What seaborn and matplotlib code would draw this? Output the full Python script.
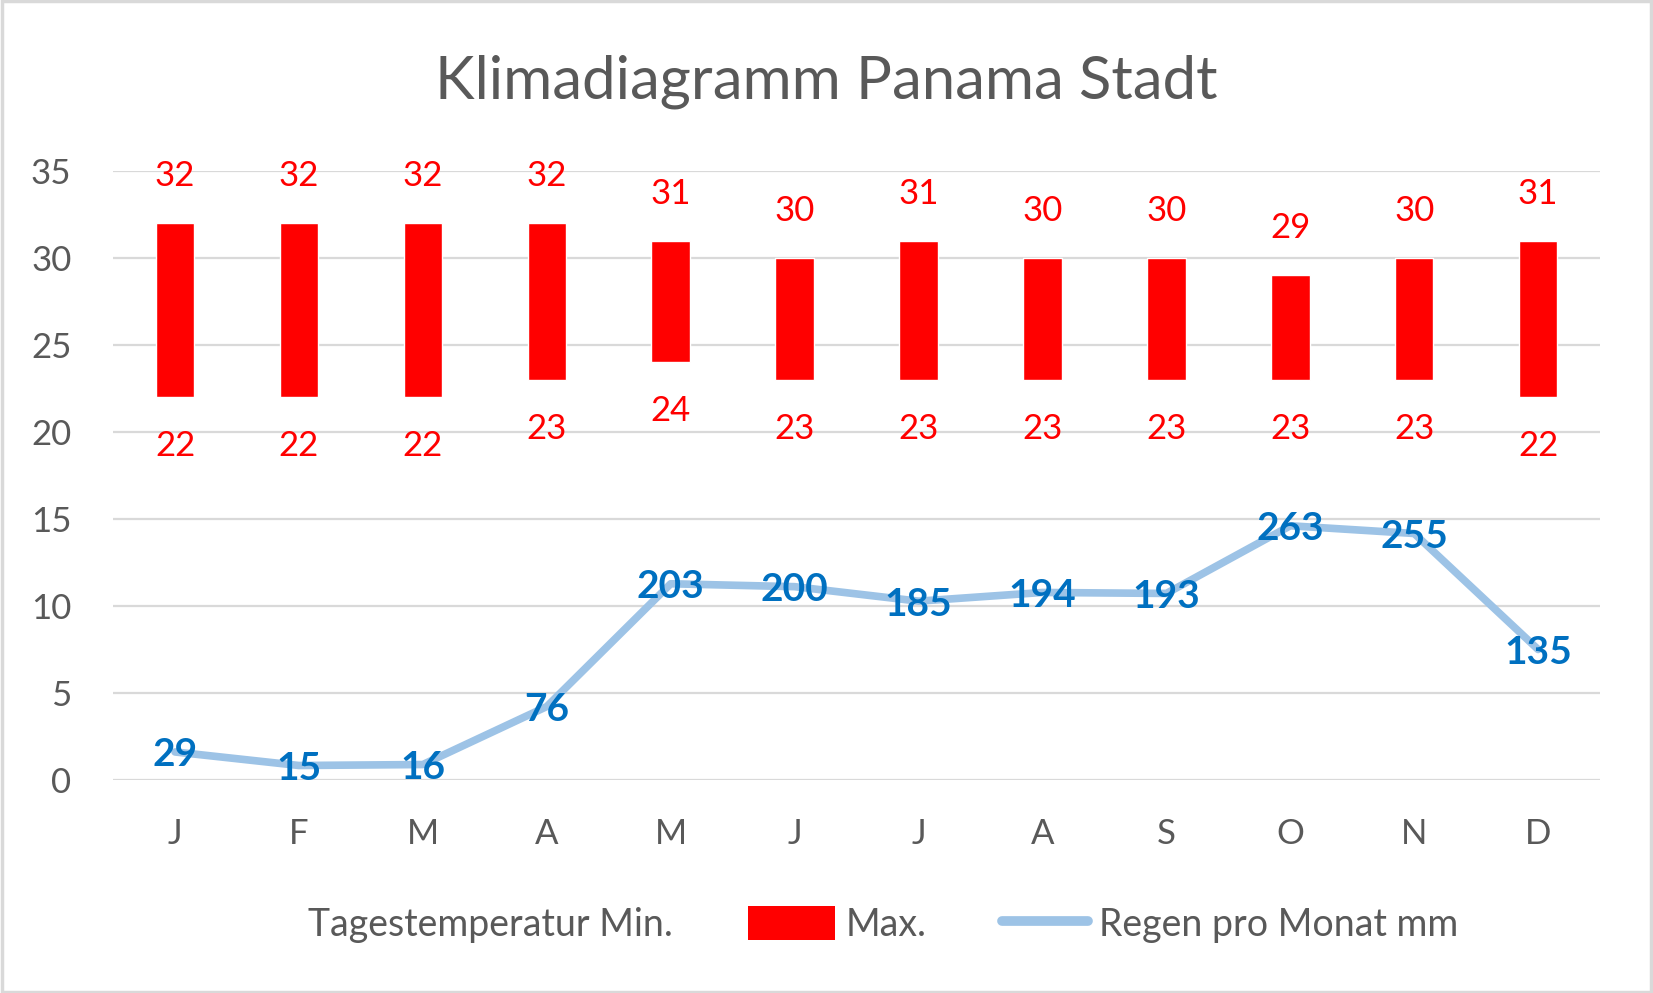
import numpy as np
import pandas as pd
import seaborn as sns
import matplotlib.pyplot as plt
from matplotlib.patches import Rectangle, Patch
from matplotlib.lines import Line2D

months = ["J", "F", "M", "A", "M", "J", "J", "A", "S", "O", "N", "D"]
temp_min = [22, 22, 22, 23, 24, 23, 23, 23, 23, 23, 23, 22]
temp_max = [32, 32, 32, 32, 31, 30, 31, 30, 30, 29, 30, 31]
rain_mm = [29, 15, 16, 76, 203, 200, 185, 194, 193, 263, 255, 135]

grey = "#595959"
red = "#FF0000"
rain_col = "#9DC3E6"
rain_lab = "#0070C0"

df = pd.DataFrame({
    "pos": np.arange(len(months)),
    "tmin": temp_min,
    "tmax": temp_max,
    "rain": rain_mm,
})
df["span"] = df["tmax"] - df["tmin"]

sns.set_style("white")
plt.rcParams["font.family"] = ["Lato", "DejaVu Sans"]

fig = plt.figure(figsize=(16.53, 9.93), dpi=100)
ax = fig.add_axes([0.0684, 0.2145, 0.8996, 0.6133])

# floating bars min -> max
sns.barplot(data=df, x="pos", y="span", bottom=df["tmin"].values, color=red,
            width=0.31, errorbar=None, saturation=1, ax=ax, zorder=3)

ax.set_ylim(0, 35)
ax.set_xlim(-0.5, 11.5)
ax.set_yticks(range(0, 36, 5))
ax.yaxis.grid(True, color="#D9D9D9", linewidth=1.6, zorder=0)
ax.set_axisbelow(True)
for s in ax.spines.values():
    s.set_visible(False)
ax.tick_params(axis="y", length=0, pad=30, labelsize=25, labelcolor=grey)
ax.tick_params(axis="x", length=0, pad=27, labelsize=25, labelcolor=grey)
ax.set_xticks(range(len(months)))
ax.set_xticklabels(months)
ax.set_xlabel("")
ax.set_ylabel("")

for i in range(len(months)):
    ax.text(i, temp_max[i] + 2.7, str(temp_max[i]), color=red, fontsize=25,
            ha="center", va="center", clip_on=False, zorder=5)
    ax.text(i, temp_min[i] - 2.8, str(temp_min[i]), color=red, fontsize=25,
            ha="center", va="center", clip_on=False, zorder=5)

# rain on hidden secondary axis
ax2 = ax.twinx()
sns.lineplot(data=df, x="pos", y="rain", color=rain_col, linewidth=5.5,
             ax=ax2, zorder=4)
ax2.set_ylim(0, 630)
ax2.set_xlim(-0.5, 11.5)
ax2.set_yticks([])
ax2.set_ylabel("")
ax2.set_xlabel("")
for s in ax2.spines.values():
    s.set_visible(False)
for i in range(len(months)):
    ax2.text(i, rain_mm[i], str(rain_mm[i]), color=rain_lab, fontsize=28,
             fontweight="bold", ha="center", va="center_baseline", zorder=6)

fig.text(0.5, 0.918, "Klimadiagramm Panama Stadt", ha="center", va="center",
         fontsize=43, color=grey)

handles = [
    Patch(facecolor="none", edgecolor="none"),
    Patch(facecolor=red, edgecolor="none"),
    Line2D([0], [0], color=rain_col, linewidth=7, solid_capstyle="round"),
]
labels = ["Tagestemperatur Min.", "Max.", "Regen pro Monat mm"]
fig.legend(handles, labels, loc="center", bbox_to_anchor=(0.505, 0.069),
           ncol=3, frameon=False, fontsize=27, labelcolor=grey,
           handlelength=2.3, handleheight=1.0, handletextpad=0.3,
           columnspacing=2.0)

fig.patches.append(Rectangle((0.001, 0.001), 0.998, 0.998, transform=fig.transFigure,
                             fill=False, edgecolor="#D9D9D9", linewidth=2.5))

fig.savefig("out.png", dpi=100, facecolor="white")
